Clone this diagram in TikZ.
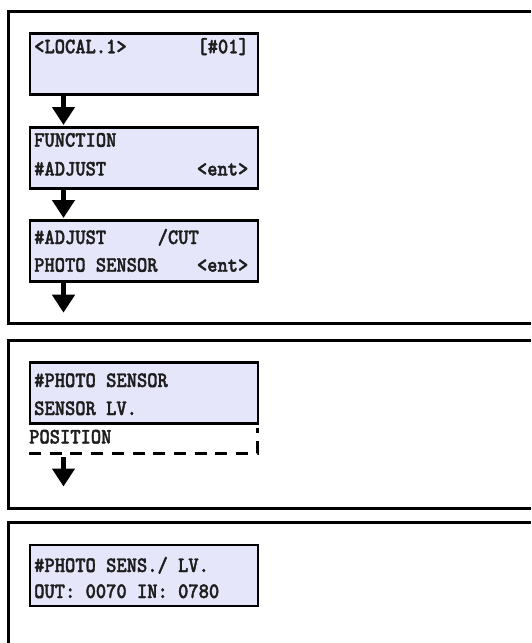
\documentclass[tikz,border=0pt]{standalone}
\usepackage{fontspec}
\usetikzlibrary{arrows.meta}
\newfontfamily\lcd[FakeStretch=0.89,FakeBold=1.6]{lmmonolt10-bold.otf}
\definecolor{lcdfill}{RGB}{230,230,250}
\definecolor{ink}{RGB}{30,30,30}
\begin{document}
\begin{tikzpicture}[x=1pt,y=-1pt,
  frame/.style={line width=3pt},
  lcdbox/.style={draw=black, line width=2.7pt, fill=lcdfill, minimum width=228pt, minimum height=61pt, inner sep=0pt},
  lcdtxt/.style={font=\lcd\fontsize{22}{22}\selectfont, text=ink, inner sep=0pt},
  flow/.style={line width=4.5pt, -{Triangle[width=22pt,length=18pt]}},
  dashline/.style={line width=3pt, dash pattern=on 12pt off 8.7pt}
  ]
\fill[white] (0,0) rectangle (531,643);
\useasboundingbox (0,0) rectangle (531,643);

% frames
\draw[frame] (531,11) -- (8.8,11) -- (8.8,323.3) -- (531,323.3);
\draw[frame] (531,340) -- (8.8,340) -- (8.8,508) -- (531,508);
\draw[frame] (531,522) -- (8.8,522) -- (8.8,650);

% boxes
\node[lcdbox] (b1) at (144,63.8) {};
\node[lcdbox] (b2) at (144,158.3) {};
\node[lcdbox] (b3) at (144,251.3) {};
\node[lcdbox] (b4) at (144,393) {};
\node[lcdbox] (b5) at (144,575.5) {};

% texts
\node[lcdtxt, anchor=base west] (t1a) at (34,53.3) {<LOCAL.1>};
\node[lcdtxt, anchor=base east] (t1b) at (249,53.3) {[\#01]};
\node[lcdtxt, anchor=base west] (t2a) at (34,146.7) {FUNCTION};
\node[lcdtxt, anchor=base west] (t2b) at (34,175.5) {\#ADJUST};
\node[lcdtxt, anchor=base east] (t2c) at (248.5,175.5) {<ent>};
\node[lcdtxt, anchor=base west] (t3a) at (34,244) {\#ADJUST};
\node[lcdtxt, anchor=base west] (t3b) at (157.5,244) {/CUT};
\node[lcdtxt, anchor=base west] (t3c) at (34,271.7) {PHOTO SENSOR};
\node[lcdtxt, anchor=base east] (t3d) at (248.5,271.7) {<ent>};
\node[lcdtxt, anchor=base west] (t4a) at (34,387) {\#PHOTO SENSOR};
\node[lcdtxt, anchor=base west] (t4b) at (34,415) {SENSOR LV.};
\node[lcdtxt, anchor=base west] (t4c) at (29,443.5) {POSITION};
\node[lcdtxt, anchor=base west] (t5a) at (34,572) {\#PHOTO SENS./ LV.};
\node[lcdtxt, anchor=base west] (t5b) at (34,598) {OUT: 0070 IN: 0780};

% dashed outline of next item
\coordinate (d1) at (29,453);
\coordinate (d2) at (257,453);
\coordinate (d3) at (257,428);
\draw[dashline] (d1) -- (d2) -- (d3);

% arrows
\coordinate (a1) at (63.5,125);
\coordinate (a2) at (63.5,218);
\coordinate (a3) at (63.5,312.7);
\coordinate (a4s) at (63.5,457);
\coordinate (a4) at (63.5,486.5);
\draw[flow] (b1.south -| a1) -- (a1);
\draw[flow] (b2.south -| a2) -- (a2);
\draw[flow] (b3.south -| a3) -- (a3);
\draw[flow] (a4s) -- (a4);
\end{tikzpicture}
\end{document}
